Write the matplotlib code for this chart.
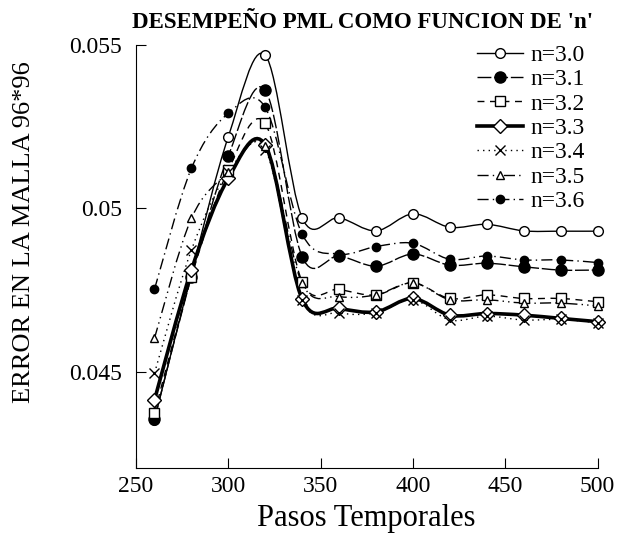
import numpy as np
import matplotlib
matplotlib.use("Agg")
import matplotlib.pyplot as plt
from matplotlib.path import Path
from matplotlib.patches import PathPatch
from matplotlib.lines import Line2D

plt.rcParams['font.family'] = ['Liberation Serif', 'DejaVu Serif']

pasos = [260, 280, 300, 320, 340, 360, 380, 400, 420, 440, 460, 480, 500]
n30 = [0.04352, 0.0480, 0.05219, 0.05469, 0.04971, 0.04971, 0.04931, 0.04983, 0.04942, 0.04951, 0.04931, 0.0493, 0.0493]
n31 = [0.04355, 0.0479, 0.0516, 0.05362, 0.04852, 0.04854, 0.04823, 0.0486, 0.04826, 0.04832, 0.04821, 0.04811, 0.04811]
n32 = [0.04374, 0.0479, 0.05117, 0.0526, 0.04775, 0.04752, 0.04735, 0.04772, 0.04724, 0.04735, 0.04724, 0.04724, 0.04714]
n33 = [0.04413, 0.04811, 0.05092, 0.05194, 0.04722, 0.04694, 0.04683, 0.04724, 0.04673, 0.04678, 0.04673, 0.04663, 0.04653]
n34 = [0.04495, 0.04872, 0.0511, 0.0518, 0.0472, 0.0468, 0.0468, 0.0472, 0.04658, 0.0467, 0.04658, 0.0466, 0.0465]
n35 = [0.04602, 0.04969, 0.0511, 0.0519, 0.0477, 0.0473, 0.04735, 0.04772, 0.0472, 0.0472, 0.0471, 0.0471, 0.04701]
n36 = [0.04752, 0.05122, 0.05291, 0.05309, 0.04921, 0.0486, 0.04883, 0.04893, 0.04844, 0.04854, 0.04842, 0.04842, 0.04834]

labels = ['n=3.0', 'n=3.1', 'n=3.2', 'n=3.3', 'n=3.4', 'n=3.5', 'n=3.6']
series = [n30, n31, n32, n33, n34, n35, n36]
styles = [
    dict(marker='o', mfc='white', ms=7, ls='-', lw=1.0),
    dict(marker='o', mfc='black', ms=8, ls=(0, (10, 2)), lw=1.0),
    dict(marker='s', mfc='white', ms=7, ls=(0, (5, 4)), lw=1.0),
    dict(marker='D', mfc='white', ms=7.5, ls='-', lw=2.6),
    dict(marker='x', mfc='none', ms=7.5, ls=(0, (1, 3)), lw=1.0),
    dict(marker='^', mfc='white', ms=6, ls=(0, (8, 3, 1, 3, 1, 3)), lw=1.0),
    dict(marker='o', mfc='black', ms=6, ls=(0, (8, 3, 1, 3)), lw=1.0),
]

fig = plt.figure(figsize=(6.17, 5.42), dpi=100)
ax = fig.add_axes([0.2204, 0.1365, 0.7480, 0.7805])
ax.set_xlim(250, 500)
ax.set_ylim(0.04205, 0.055)


def smooth_path(xs, ys):
    xs = np.asarray(xs, float)
    ys = np.asarray(ys, float)
    verts = [(xs[0], ys[0])]
    codes = [Path.MOVETO]
    n = len(xs)
    for i in range(n - 1):
        x0, y0 = (xs[i - 1], ys[i - 1]) if i > 0 else (xs[i], ys[i])
        x1, y1 = xs[i], ys[i]
        x2, y2 = xs[i + 1], ys[i + 1]
        x3, y3 = (xs[i + 2], ys[i + 2]) if i + 2 < n else (x2, y2)
        c1 = (x1 + (x2 - x0) / 6.0, y1 + (y2 - y0) / 6.0)
        c2 = (x2 - (x3 - x1) / 6.0, y2 - (y3 - y1) / 6.0)
        verts += [c1, c2, (x2, y2)]
        codes += [Path.CURVE4] * 3
    return Path(verts, codes)


handles = []
for lab, ys, st in zip(labels, series, styles):
    patch = PathPatch(smooth_path(pasos, ys), facecolor='none', edgecolor='black',
                      lw=st['lw'], linestyle=st['ls'], clip_on=True)
    ax.add_patch(patch)
    ax.plot(pasos, ys, ls='none', marker=st['marker'], mfc=st['mfc'], mec='black',
            ms=st['ms'], mew=1.0, color='black', clip_on=False)
    handles.append(Line2D([], [], color='black', lw=st['lw'], ls=st['ls'],
                          marker=st['marker'], mfc=st['mfc'], mec='black', ms=st['ms'], mew=1.0))

for s in ['top', 'right']:
    ax.spines[s].set_visible(False)
ax.set_xticks([250, 300, 350, 400, 450, 500])
ax.set_yticks([0.045, 0.05, 0.055])
ax.set_yticklabels(['0.045', '0.05', '0.055'])
ax.tick_params(direction='in', length=7, labelsize=17)
ax.tick_params(axis='y', pad=10)
ax.tick_params(axis='x', pad=6)
ax.set_xlabel('Pasos Temporales', fontsize=22, labelpad=5)

fig.text(24 / 617, 1 - 232 / 542, 'ERROR EN LA MALLA 96*96', rotation=90,
         ha='center', va='center', fontsize=19)

fig.text(363 / 617, 1 - 22 / 542, "DESEMPEÑO PML COMO FUNCION DE 'n'", ha='center', va='center',
         fontsize=16.5, fontweight='bold')

fig.legend(handles, labels, loc='upper right', bbox_to_anchor=(0.948, 0.918), frameon=False,
           fontsize=17, handlelength=1.95, handletextpad=0.3, labelspacing=0.12,
           borderaxespad=0, borderpad=0)

fig.savefig('out.png', dpi=100)
